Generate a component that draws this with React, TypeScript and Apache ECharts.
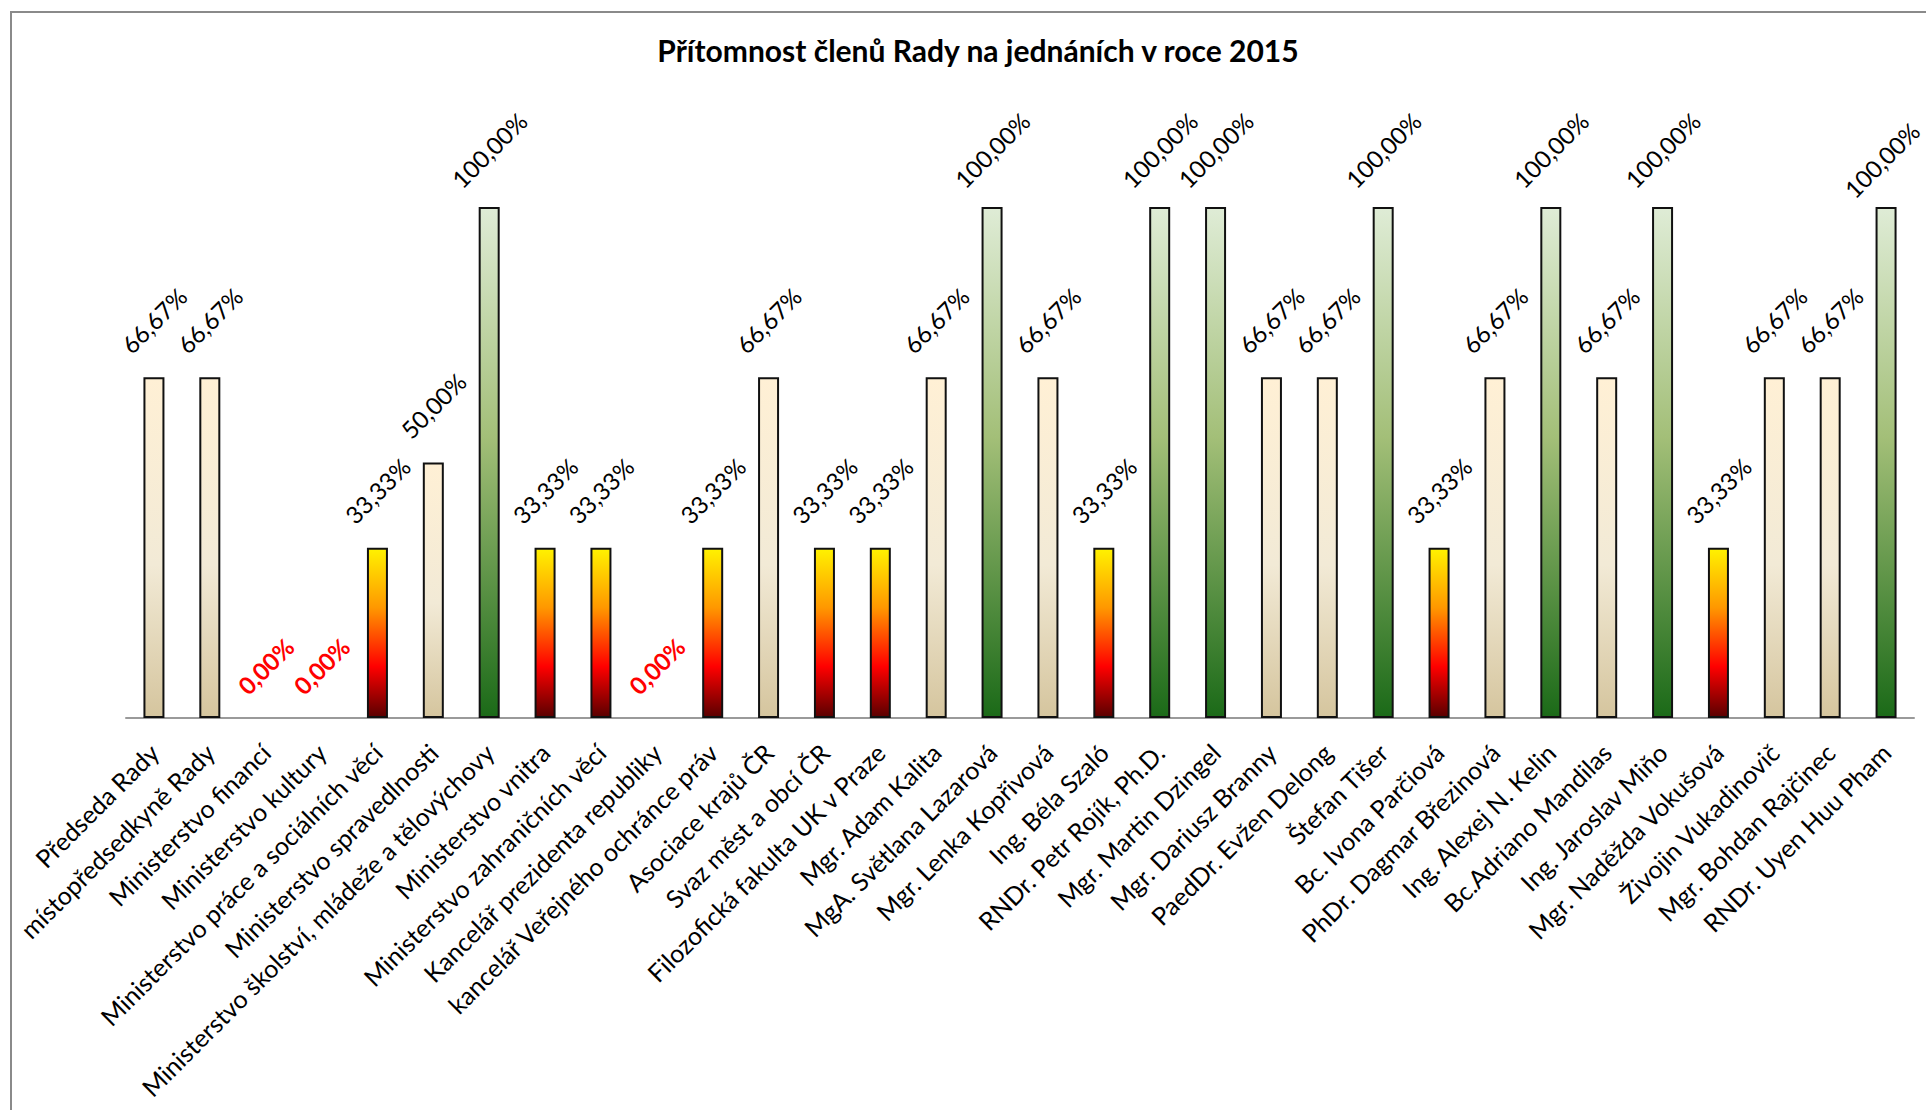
import React, { useEffect, useRef } from "react";
import * as echarts from "echarts";

const categories: string[] = [
  "Předseda Rady",
  "místopředsedkyně Rady",
  "Ministerstvo financí",
  "Ministerstvo kultury",
  "Ministerstvo práce a sociálních věcí",
  "Ministerstvo spravedlnosti",
  "Ministerstvo školství, mládeže a tělovýchovy",
  "Ministerstvo vnitra",
  "Ministerstvo zahraničních věcí",
  "Kancelář prezidenta republiky",
  "kancelář Veřejného ochránce práv",
  "Asociace krajů ČR",
  "Svaz měst a obcí ČR",
  "Filozofická fakulta UK v Praze",
  "Mgr. Adam Kalita",
  "MgA. Světlana Lazarová",
  "Mgr. Lenka Kopřivová",
  "Ing. Béla Szaló",
  "RNDr. Petr Rojík, Ph.D.",
  "Mgr. Martin Dzingel",
  "Mgr. Dariusz Branny",
  "PaedDr. Evžen Delong",
  "Štefan Tišer",
  "Bc. Ivona Parčiová",
  "PhDr. Dagmar Březinová",
  "Ing. Alexej N. Kelin",
  "Bc.Adriano Mandilas",
  "Ing. Jaroslav Miňo",
  "Mgr. Naděžda Vokušová",
  "Živojin Vukadinovič",
  "Mgr. Bohdan Rajčinec",
  "RNDr. Uyen Huu Pham",
];

const attendance: number[] = [
  66.67, 66.67, 0, 0, 33.33, 50, 100, 33.33, 33.33, 0, 33.33, 66.67, 33.33,
  33.33, 66.67, 100, 66.67, 33.33, 100, 100, 66.67, 66.67, 100, 33.33, 66.67,
  100, 66.67, 100, 33.33, 66.67, 66.67, 100,
];

const titleText = "Přítomnost členů Rady na jednáních v roce 2015";

const FONT = "Lato, 'Open Sans', sans-serif";

function grad(stops: [number, string][]) {
  return new echarts.graphic.LinearGradient(
    0,
    0,
    0,
    1,
    stops.map(([offset, color]) => ({ offset, color }))
  );
}

const greenFill = () =>
  grad([
    [0, "#dfecd6"],
    [0.45, "#a3bf78"],
    [1, "#1b6a18"],
  ]);
const redFill = () =>
  grad([
    [0, "#fff200"],
    [0.35, "#ff9800"],
    [0.7, "#ff0000"],
    [1, "#5a0000"],
  ]);
const creamFill = () =>
  grad([
    [0, "#fff0d5"],
    [0.55, "#f2ead6"],
    [1, "#d5c59e"],
  ]);

function fmt(v: number) {
  return v.toFixed(2).replace(".", ",") + "%";
}

export default function App() {
  const ref = useRef<HTMLDivElement>(null);

  useEffect(() => {
    document.body.style.margin = "0";
    if (!ref.current) return;
    const chart = echarts.init(ref.current, undefined, { renderer: "svg" });

    const last = attendance.length - 1;
    const data = attendance.map((v, i) => {
      const fill = v >= 99.99 ? greenFill() : v < 40 ? redFill() : creamFill();
      const item: any = {
        value: v,
        itemStyle: { color: fill },
      };
      if (v === 0) {
        item.itemStyle = { color: "rgba(0,0,0,0)", borderWidth: 0 };
        item.label = {
          color: "#ff0000",
          fontWeight: "bold",
          distance: 52,
        };
      }
      if (i === last) {
        item.label = { ...(item.label || {}), offset: [-10, 4] };
      }
      return item;
    });

    chart.setOption({
      animation: false,
      backgroundColor: "#ffffff",
      graphic: [
        {
          type: "rect",
          shape: { x: 11, y: 12, width: 2400, height: 2400 },
          style: { fill: "none", stroke: "#8a8a8a", lineWidth: 2 },
          silent: true,
          z: -1,
        },
        {
          type: "text",
          x: 978,
          y: 35,
          style: {
            text: titleText,
            fill: "#000000",
            font: `bold 30px ${FONT}`,
            textAlign: "center",
            textVerticalAlign: "top",
          },
        },
      ],
      grid: { left: 126, right: 12, top: 207, bottom: 392, containLabel: false },
      xAxis: {
        type: "category",
        data: categories,
        axisLine: { show: true, lineStyle: { color: "#9a9a9a", width: 2 } },
        axisTick: { show: false },
        axisLabel: {
          interval: 0,
          rotate: 45,
          margin: 30,
          color: "#000000",
          fontSize: 25,
          fontFamily: FONT,
        },
      },
      yAxis: {
        type: "value",
        min: 0,
        max: 100,
        show: false,
        splitLine: { show: false },
      },
      series: [
        {
          type: "bar",
          data,
          barWidth: 21,
          itemStyle: { borderColor: "#111111", borderWidth: 2 },
          label: {
            show: true,
            position: "top",
            distance: 57,
            rotate: 45,
            align: "center",
            verticalAlign: "middle",
            color: "#000000",
            fontSize: 24,
            fontFamily: FONT,
            formatter: (p: any) => fmt(p.value),
          },
        },
      ],
    });

    return () => chart.dispose();
  }, []);

  return <div ref={ref} style={{ width: 1926, height: 1110 }} />;
}
